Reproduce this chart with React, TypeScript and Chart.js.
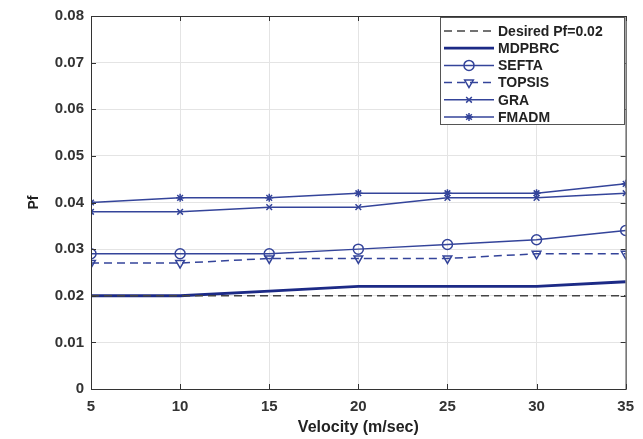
import React, { useEffect, useRef } from "react";
import { Chart, registerables } from "chart.js";
import { drawPoint } from "chart.js/helpers";

Chart.register(...registerables);

const velocities = [5, 10, 15, 20, 25, 30, 35];
const desiredPf = [0.02, 0.02, 0.02, 0.02, 0.02, 0.02, 0.02];
const mdpbrc = [0.02, 0.02, 0.021, 0.022, 0.022, 0.022, 0.023];
const sefta = [0.029, 0.029, 0.029, 0.030, 0.031, 0.032, 0.034];
const topsis = [0.027, 0.027, 0.028, 0.028, 0.028, 0.029, 0.029];
const gra = [0.038, 0.038, 0.039, 0.039, 0.041, 0.041, 0.042];
const fmadm = [0.040, 0.041, 0.041, 0.042, 0.042, 0.042, 0.044];
const seriesNames = ["Desired Pf=0.02", "MDPBRC", "SEFTA", "TOPSIS", "GRA", "FMADM"];
const xTicks = [5, 10, 15, 20, 25, 30, 35];
const yTicks = [0, 0.01, 0.02, 0.03, 0.04, 0.05, 0.06, 0.07, 0.08];

const FONT = "'Liberation Sans', Arial, sans-serif";
const BLUE = "#34449a";
const DARK = "#1c2a86";

const toPts = (ys: number[]) => velocities.map((x, i) => ({ x, y: ys[i] }));

const boxPlugin = {
  id: "boxPlugin",
  afterDraw(chart: any) {
    const { ctx, chartArea: a, scales } = chart;
    ctx.save();
    ctx.strokeStyle = "#333";
    ctx.lineWidth = 1;
    ctx.strokeRect(a.left + 0.5, a.top + 0.5, a.right - a.left, a.bottom - a.top);
    const t = 5;
    ctx.beginPath();
    xTicks.forEach((v) => {
      const px = Math.round(scales.x.getPixelForValue(v)) + 0.5;
      ctx.moveTo(px, a.bottom); ctx.lineTo(px, a.bottom - t);
      ctx.moveTo(px, a.top); ctx.lineTo(px, a.top + t);
    });
    yTicks.forEach((v) => {
      const py = Math.round(scales.y.getPixelForValue(v)) + 0.5;
      ctx.moveTo(a.left, py); ctx.lineTo(a.left + t, py);
      ctx.moveTo(a.right, py); ctx.lineTo(a.right - t, py);
    });
    ctx.stroke();

    // legend
    const lx = 440, ly = 17, lw = 184, lh = 107;
    ctx.fillStyle = "#fff";
    ctx.fillRect(lx, ly, lw, lh);
    ctx.strokeStyle = "#555";
    ctx.strokeRect(lx + 0.5, ly + 0.5, lw, lh);
    const rowY0 = 31, rowStep = 17.2;
    chart.data.datasets.forEach((ds: any, i: number) => {
      const y = rowY0 + i * rowStep;
      const x1 = 444, x2 = 494;
      ctx.save();
      ctx.strokeStyle = ds.borderColor;
      ctx.lineWidth = ds.borderWidth;
      ctx.setLineDash(ds.borderDash || []);
      ctx.beginPath();
      ctx.moveTo(x1, y); ctx.lineTo(x2, y);
      ctx.stroke();
      ctx.setLineDash([]);
      if (ds.pointStyle && ds.pointRadius > 0) {
        ctx.fillStyle = ds.pointBackgroundColor;
        ctx.strokeStyle = ds.pointBorderColor;
        ctx.lineWidth = ds.pointBorderWidth;
        drawPoint(ctx, { pointStyle: ds.pointStyle, radius: ds.pointRadius, rotation: ds.pointRotation || 0, borderWidth: ds.pointBorderWidth }, (x1 + x2) / 2, y);
      }
      ctx.restore();
      ctx.fillStyle = "#222";
      ctx.font = `bold 14px ${FONT}`;
      ctx.textBaseline = "middle";
      ctx.textAlign = "left";
      ctx.fillText(seriesNames[i], 498, y + 1);
    });
    ctx.restore();
  },
};

export default function App() {
  const ref = useRef<HTMLCanvasElement>(null);
  useEffect(() => {
    document.body.style.margin = "0";
    const mk = (label: string, data: number[], color: string, width: number, dash: number[] | undefined, ps: any, r: number, fill = "#fff", rot = 0) => ({
      label,
      data: toPts(data),
      borderColor: color,
      borderWidth: width,
      borderDash: dash,
      pointStyle: ps,
      pointRadius: r,
      pointRotation: rot,
      pointBackgroundColor: fill,
      pointBorderColor: color,
      pointBorderWidth: 1.5,
      fill: false,
      tension: 0,
    });
    const chart = new Chart(ref.current!, {
      type: "line",
      data: {
        datasets: [
          mk(seriesNames[0], desiredPf, "#444", 1.5, [8, 5], false, 0),
          mk(seriesNames[1], mdpbrc, DARK, 2.8, undefined, false, 0),
          mk(seriesNames[2], sefta, BLUE, 1.5, undefined, "circle", 5, "rgba(0,0,0,0)"),
          mk(seriesNames[3], topsis, BLUE, 1.5, [8, 5], "triangle", 5, "rgba(0,0,0,0)", 180),
          mk(seriesNames[4], gra, BLUE, 1.5, undefined, "crossRot", 4),
          mk(seriesNames[5], fmadm, BLUE, 1.5, undefined, "star", 4),
        ],
      },
      options: {
        animation: false,
        responsive: false,
        layout: { padding: { top: 13, right: 10, left: 0, bottom: 0 } },
        plugins: { legend: { display: false }, tooltip: { enabled: false } },
        scales: {
          x: {
            type: "linear",
            min: 5,
            max: 35,
            afterBuildTicks: (s: any) => { s.ticks = xTicks.map((v) => ({ value: v })); },
            afterFit: (s: any) => { s.height = 50; },
            grid: { color: "#e4e4e4", drawTicks: false },
            border: { display: false },
            ticks: { padding: 9, color: "#333", font: { family: FONT, size: 15, weight: "bold" } },
            title: { display: true, text: "Velocity (m/sec)", color: "#222", padding: { top: 0, bottom: 2 }, font: { family: FONT, size: 16, weight: "bold" } },
          },
          y: {
            min: 0,
            max: 0.08,
            afterBuildTicks: (s: any) => { s.ticks = yTicks.map((v) => ({ value: v })); },
            afterFit: (s: any) => { s.width = 91; },
            grid: { color: "#e4e4e4", drawTicks: false },
            border: { display: false },
            ticks: { padding: 7, color: "#333", font: { family: FONT, size: 15, weight: "bold" }, callback: (v: any) => (v === 0 ? "0" : Number(v).toFixed(2)) },
            title: { display: true, text: "Pf", color: "#222", padding: { top: 26, bottom: 0 }, font: { family: FONT, size: 14, weight: "bold" } },
          },
        },
      } as any,
      plugins: [boxPlugin],
    });
    return () => chart.destroy();
  }, []);
  return (
    <div style={{ width: 643, height: 439, background: "#fff" }}>
      <canvas ref={ref} width={643} height={439} />
    </div>
  );
}
